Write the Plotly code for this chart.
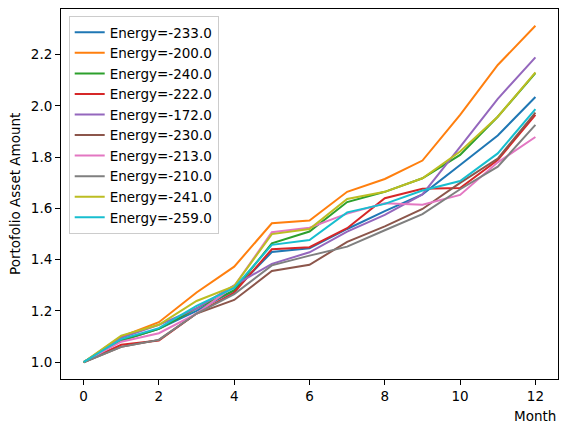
import plotly.graph_objects as go

months = list(range(13))

energy_labels = ["Energy=-233.0", "Energy=-200.0", "Energy=-240.0", "Energy=-222.0",
                 "Energy=-172.0", "Energy=-230.0", "Energy=-213.0", "Energy=-210.0",
                 "Energy=-241.0", "Energy=-259.0"]

s_233 = [1.0, 1.085, 1.13, 1.20, 1.28, 1.43, 1.445, 1.52, 1.59, 1.655, 1.77, 1.885, 2.035]
s_200 = [1.0, 1.10, 1.156, 1.272, 1.373, 1.542, 1.553, 1.665, 1.715, 1.787, 1.965, 2.16, 2.313]
s_240 = [1.0, 1.085, 1.13, 1.21, 1.28, 1.464, 1.51, 1.625, 1.665, 1.718, 1.809, 1.958, 2.128]
s_222 = [1.0, 1.068, 1.085, 1.19, 1.272, 1.441, 1.449, 1.523, 1.64, 1.677, 1.68, 1.789, 1.965]
s_172 = [1.0, 1.095, 1.146, 1.21, 1.30, 1.384, 1.429, 1.51, 1.575, 1.655, 1.84, 2.028, 2.19]
s_230 = [1.0, 1.06, 1.087, 1.19, 1.243, 1.356, 1.38, 1.47, 1.53, 1.598, 1.70, 1.795, 1.974]
s_213 = [1.0, 1.08, 1.113, 1.19, 1.297, 1.507, 1.525, 1.58, 1.62, 1.615, 1.653, 1.78, 1.879]
s_210 = [1.0, 1.06, 1.087, 1.19, 1.266, 1.378, 1.416, 1.451, 1.515, 1.578, 1.675, 1.763, 1.926]
s_241 = [1.0, 1.104, 1.146, 1.239, 1.297, 1.50, 1.52, 1.637, 1.665, 1.718, 1.822, 1.958, 2.131]
s_259 = [1.0, 1.09, 1.133, 1.22, 1.29, 1.458, 1.477, 1.585, 1.618, 1.67, 1.707, 1.815, 1.988]

series = [s_233, s_200, s_240, s_222, s_172, s_230, s_213, s_210, s_241, s_259]
colors = ["#1f77b4", "#ff7f0e", "#2ca02c", "#d62728", "#9467bd",
          "#8c564b", "#e377c2", "#7f7f7f", "#bcbd22", "#17becf"]

x_ticks = [0, 2, 4, 6, 8, 10, 12]
y_ticks = [1.0, 1.2, 1.4, 1.6, 1.8, 2.0, 2.2]

fig = go.Figure()
for name, vals, c in zip(energy_labels, series, colors):
    fig.add_trace(go.Scatter(x=months, y=vals, mode="lines", name=name,
                             line=dict(color=c, width=2)))

font = dict(family="DejaVu Sans", size=13.5, color="black")
axis_common = dict(showline=True, mirror=True, linecolor="black", linewidth=1,
                   ticks="outside", ticklen=5, tickcolor="black", tickwidth=1,
                   showgrid=False, zeroline=False, tickfont=font)

fig.update_layout(
    width=567, height=432,
    margin=dict(l=61, r=9, t=9, b=53, autoexpand=False),
    paper_bgcolor="white", plot_bgcolor="white",
    font=font,
    showlegend=True,
    legend=dict(x=0.0155, y=0.981, xanchor="left", yanchor="top",
                bgcolor="rgba(255,255,255,0.8)", bordercolor="#cccccc", borderwidth=1,
                font=font, tracegroupgap=0),
    xaxis=dict(range=[-0.6, 12.6], tickvals=x_ticks, ticktext=[str(v) for v in x_ticks],
               **axis_common),
    yaxis=dict(range=[0.9345, 2.3785], tickvals=y_ticks,
               ticktext=[f"{v:.1f}" for v in y_ticks], **axis_common),
    annotations=[
        dict(text="Portofolio Asset Amount", xref="paper", yref="paper", x=0, y=0.5,
             xshift=-46, xanchor="center", yanchor="middle", textangle=-90,
             showarrow=False, font=font),
        dict(text="Month", xref="paper", yref="paper", x=1, y=0, xanchor="right",
             yanchor="top", yshift=-27, showarrow=False, font=font),
    ],
)

fig.write_html("out.html", config={"displayModeBar": False},
               post_script="document.body.style.margin='0';")
